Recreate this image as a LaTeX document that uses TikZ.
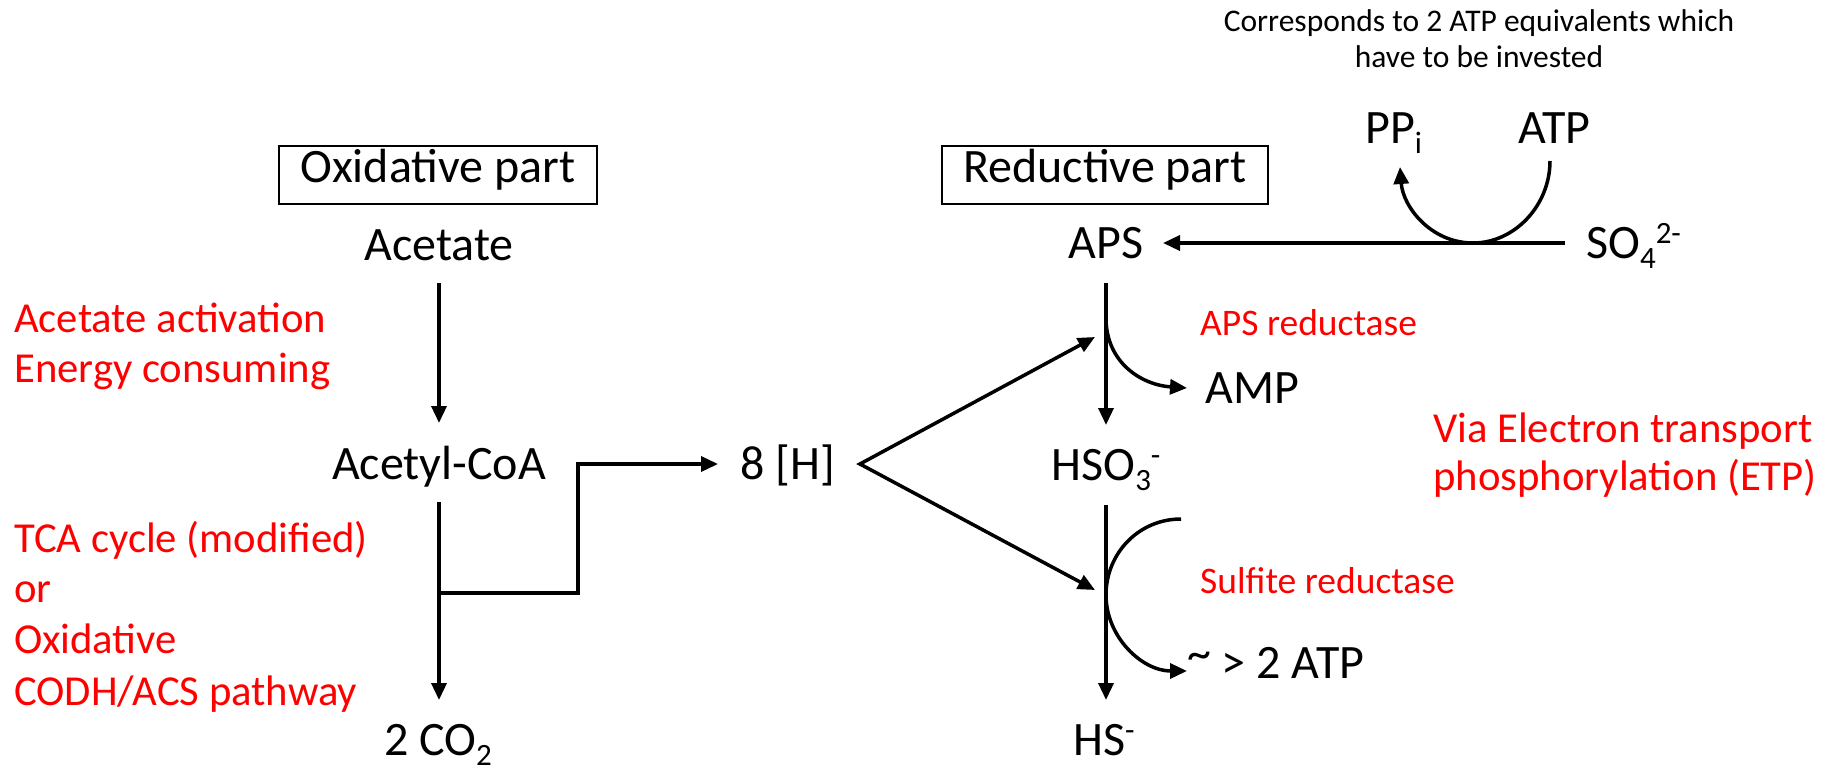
\documentclass[tikz,border=0pt]{standalone}
\usepackage{fontspec}
\setmainfont{Carlito}
\usetikzlibrary{arrows.meta,calc}
\newcommand\mysub[1]{\raisebox{-10pt}{\fontsize{31}{31}\selectfont #1}}
\newcommand\mysup[1]{\raisebox{15pt}{\fontsize{31}{31}\selectfont #1}}
\begin{document}
\begin{tikzpicture}[x=1pt,y=-1pt,
  lbl/.style={font=\fontsize{48}{57}\selectfont, inner sep=0pt},
  rlbl/.style={font=\fontsize{42.7}{50}\selectfont, text=red, inner sep=0pt, anchor=base west},
  slbl/.style={font=\fontsize{37.5}{44}\selectfont, text=red, inner sep=0pt, anchor=base west},
  note/.style={font=\fontsize{31.5}{37}\selectfont, inner sep=0pt, anchor=base},
  partbox/.style={draw, line width=1.3pt, inner sep=0pt, text height=36pt, text depth=22pt, anchor=base, font=\fontsize{48}{57}\selectfont},
  conn/.style={line width=3.5pt, -{Triangle[length=17pt,width=15pt]}},
  conntwo/.style={line width=3.5pt, {Triangle[length=17pt,width=15pt]}-{Triangle[length=17pt,width=15pt]}},
]
\useasboundingbox (0,0) rectangle (1829,768);

% boxes
\node[partbox, minimum width=318pt] (oxbox) at (438,182) {Oxidative part};
\node[partbox, minimum width=326pt] (redbox) at (1105,182) {Reductive part};

% species
\node[lbl, anchor=base] (acetate) at (439,260) {Acetate};
\node[lbl, anchor=base] (acetylcoa) at (439,479) {Acetyl-CoA};
\node[lbl, anchor=base] (co2) at (438,755) {2 CO\mysub{2}};
\node[lbl, anchor=base west] (h8) at (740,479) {8 [H]};
\node[lbl, anchor=base] (aps) at (1106,258) {APS};
\node[lbl, anchor=base] (hso3) at (1106,480) {HSO\mysub{3}\mysup{-}};
\node[lbl, anchor=base] (hs) at (1104,755) {HS\mysup{-}};
\node[lbl, anchor=base west] (amp) at (1205,403) {AMP};
\node[lbl, anchor=base west] (atptwo) at (1187,678) {\raisebox{9pt}{\textasciitilde} > 2 ATP};
\node[lbl, anchor=base west] (so4) at (1586,258) {SO\mysub{4}\mysup{2-}};
\node[lbl, anchor=base west] (atp) at (1518,143) {ATP};
\node[lbl, anchor=base west] (ppi) at (1365,143) {PP\mysub{i}};

% red labels
\node[rlbl] (r1) at (14,332) {Acetate activation};
\node[rlbl] (r2) at (14,382) {Energy consuming};
\node[rlbl] (r3) at (14,552) {TCA cycle (modified)};
\node[rlbl] (r4) at (14,602) {or};
\node[rlbl] (r5) at (14,653) {Oxidative};
\node[rlbl] (r6) at (14,705) {CODH/ACS pathway};
\node[rlbl] (r7) at (1433,442) {Via Electron transport};
\node[rlbl] (r8) at (1433,490) {phosphorylation (ETP)};
\node[slbl] (apsr) at (1200,335) {APS reductase};
\node[slbl] (sulr) at (1200,593) {Sulfite reductase};

% note
\node[note] (n1) at (1479,32) {Corresponds to 2 ATP equivalents which};
\node[note] (n2) at (1479,67) {have to be invested};

% oxidative connectors
\draw[conn] ($(acetate.base)+(0,23)$) -- ($(acetylcoa.base)+(0,-56)$);
\draw[conn] ($(acetylcoa.base)+(0,23)$) -- ($(acetylcoa.base |- co2.base)+(0,-55)$);
\coordinate (br) at ($(acetylcoa.base)+(0,114)$);
\draw[conn] (br) -- ++(139,0) |- ($(h8.base west)+(-22,-15)$);

% 8[H] to reductive part
\coordinate (hv) at ($(h8.base east)+(25,-15)$);
\coordinate (j1) at ($(aps.base)+(-11,79)$);
\coordinate (j2) at ($(hso3.base)+(-11,110)$);
\draw[conntwo] (j1) -- (hv) -- (j2);

% reductive chain
\draw[conn] ($(aps.base)+(0,25)$) -- ($(hso3.base)+(0,-55)$);
\draw[conn] ($(hso3.base)+(0,25)$) -- ($(hso3.base |- hs.base)+(0,-55)$);
\draw[conn] ($(aps.base)+(0,60)$) .. controls +(0,45) and +(-45,-3) .. ($(amp.base west)+(-18,-15)$);
\coordinate (sf) at ($(hso3.base)+(75,39)$);
\coordinate (sm) at ($(hso3.base)+(0,115)$);
\draw[conn] (sf) .. controls +(-42,0) and +(0,-42) .. (sm) .. controls +(0,42) and +(-45,0) .. ($(atptwo.base west)+(0,-7)$);

% sulfate activation
\draw[conn] ($(so4.base west)+(-21,-15)$) -- ($(aps.base)+(57,-15)$);
\coordinate (ab) at ($(so4.base west)+(-113,-15)$);
\draw[conn] ($(atp.base west)+(32,18)$) .. controls +(0,44) and +(42,0) .. (ab) .. controls +(-42,0) and +(3,40) .. ($(ppi.base west)+(35,24)$);
\end{tikzpicture}
\end{document}
